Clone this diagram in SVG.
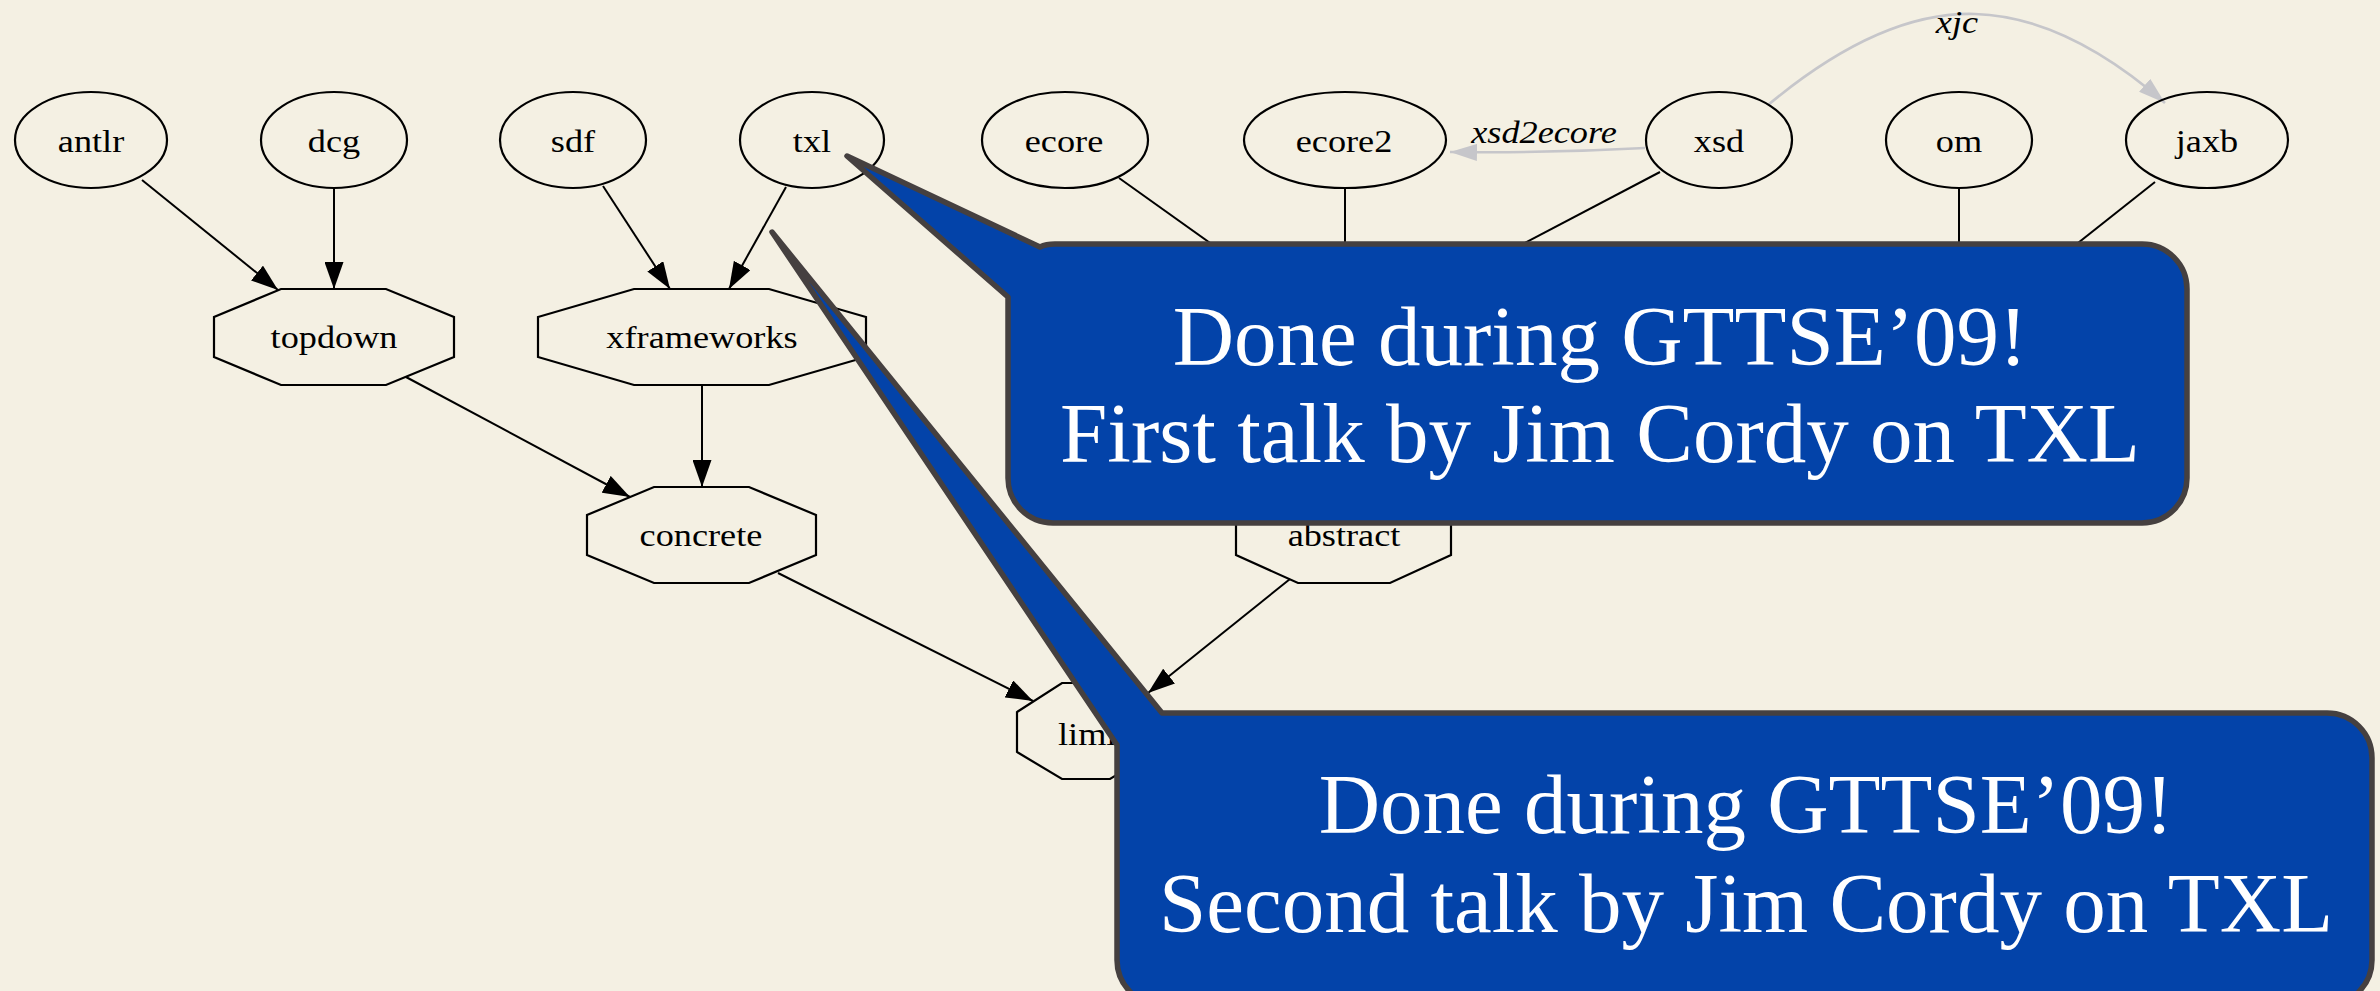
<svg xmlns="http://www.w3.org/2000/svg" width="2380" height="991" viewBox="0 0 2380 991">
  <style>
    .node { fill: none; stroke: #000; stroke-width: 2.2; }
    .lbl { font-family: "Liberation Serif", "Times New Roman", serif; font-size: 31px; fill: #000; text-anchor: middle; }
    .elbl { font-family: "Liberation Serif", "Times New Roman", serif; font-size: 31px; font-style: italic; fill: #000; text-anchor: middle; }
    .edge { fill: none; stroke: #000; stroke-width: 2; marker-end: url(#arrow); }
    .gedge { fill: none; stroke: #c6c6ca; stroke-width: 2.6; marker-end: url(#garrow); }
    .bubble { fill: #0343a9; stroke: #454040; stroke-width: 5.5; stroke-linejoin: round; }
    .btext { font-family: "Liberation Serif", "Times New Roman", serif; font-size: 85px; fill: #fff; text-anchor: middle; }
  </style>
  <defs>
    <marker id="arrow" viewBox="0 0 27 19" refX="27" refY="9.5" markerWidth="27" markerHeight="19" markerUnits="userSpaceOnUse" orient="auto">
      <path d="M0,0 L27,9.5 L0,19 Z" fill="#000"/>
    </marker>
    <marker id="garrow" viewBox="0 0 27 17" refX="27" refY="8.5" markerWidth="27" markerHeight="17" markerUnits="userSpaceOnUse" orient="auto">
      <path d="M0,0 L27,8.5 L0,17 Z" fill="#c6c6ca"/>
    </marker>
  </defs>

  <rect width="2380" height="991" fill="#f4f0e3"/>

  <!-- connectors -->
  <g id="edges">
    <line class="edge" x1="142" y1="180" x2="278" y2="290"/>
    <line class="edge" x1="334" y1="188" x2="334" y2="289"/>
    <line class="edge" x1="603" y1="186" x2="670" y2="289"/>
    <line class="edge" x1="786" y1="187" x2="729" y2="289"/>
    <line class="edge" x1="406" y1="377" x2="630" y2="497"/>
    <line class="edge" x1="702" y1="385" x2="702" y2="487"/>
    <line class="edge" x1="778" y1="573" x2="1033" y2="701"/>
    <line class="edge" x1="1290" y1="579" x2="1148" y2="693"/>
    <line class="edge" x1="1119" y1="178" x2="1290" y2="300"/>
    <line class="edge" x1="1345" y1="188" x2="1345" y2="289"/>
    <line class="edge" x1="1660" y1="172" x2="1416" y2="300"/>
    <line class="edge" x1="1959" y1="188" x2="1959" y2="289"/>
    <line class="edge" x1="2155" y1="182" x2="2006" y2="300"/>
    <path class="gedge" d="M1645,148 C1590,151 1520,153 1450,152"/>
    <text class="elbl" transform="translate(1544,143) scale(1.17,1)">xsd2ecore</text>
    <path class="gedge" d="M1768,105 C1840,45 1910,12 1975,14 C2045,16 2110,55 2165,103"/>
    <text class="elbl" transform="translate(1957,33) scale(1.17,1)">xjc</text>
  </g>

  <!-- source nodes -->
  <g id="node-antlr"><ellipse class="node" cx="91" cy="140" rx="76" ry="48"/><text class="lbl" transform="translate(91,152) scale(1.17,1)">antlr</text></g>
  <g id="node-dcg"><ellipse class="node" cx="334" cy="140" rx="73" ry="48"/><text class="lbl" transform="translate(334,152) scale(1.17,1)">dcg</text></g>
  <g id="node-sdf"><ellipse class="node" cx="573" cy="140" rx="73" ry="48"/><text class="lbl" transform="translate(573,152) scale(1.17,1)">sdf</text></g>
  <g id="node-txl"><ellipse class="node" cx="812" cy="140" rx="72" ry="48"/><text class="lbl" transform="translate(812,152) scale(1.17,1)">txl</text></g>
  <g id="node-ecore"><ellipse class="node" cx="1065" cy="140" rx="83" ry="48"/><text class="lbl" transform="translate(1064,152) scale(1.17,1)">ecore</text></g>
  <g id="node-ecore2"><ellipse class="node" cx="1345" cy="140" rx="101" ry="48"/><text class="lbl" transform="translate(1344,152) scale(1.17,1)">ecore2</text></g>
  <g id="node-xsd"><ellipse class="node" cx="1719" cy="140" rx="73" ry="48"/><text class="lbl" transform="translate(1719,152) scale(1.17,1)">xsd</text></g>
  <g id="node-om"><ellipse class="node" cx="1959" cy="140" rx="73" ry="48"/><text class="lbl" transform="translate(1959,152) scale(1.17,1)">om</text></g>
  <g id="node-jaxb"><ellipse class="node" cx="2207" cy="140" rx="81" ry="48"/><text class="lbl" transform="translate(2207,152) scale(1.17,1)">jaxb</text></g>

  <!-- intermediate nodes -->
  <g id="node-topdown"><polygon class="node" points="281,289 386,289 454,317 454,357 386,385 281,385 214,357 214,317"/><text class="lbl" transform="translate(334,348) scale(1.17,1)">topdown</text></g>
  <g id="node-xframeworks"><polygon class="node" points="634,289 769,289 866,317 866,357 769,385 634,385 538,357 538,317"/><text class="lbl" transform="translate(702,348) scale(1.17,1)">xframeworks</text></g>
  <g id="node-concrete"><polygon class="node" points="654,487 749,487 816,515 816,555 749,583 654,583 587,555 587,515"/><text class="lbl" transform="translate(701,546) scale(1.17,1)">concrete</text></g>
  <g id="node-abstract"><polygon class="node" points="1298,487 1390,487 1451,515 1451,555 1390,583 1298,583 1236,555 1236,515"/><text class="lbl" transform="translate(1344,546) scale(1.17,1)">abstract</text></g>
  <g id="node-limit"><polygon class="node" points="1062,683 1110,683 1155,712 1155,752 1110,779 1062,779 1017,752 1017,712"/><text class="lbl" style="text-anchor:start" transform="translate(1058,745) scale(1.17,1)">limit</text></g>

  <!-- callouts -->
  <g id="callout-first">
    <path class="bubble" d="M1055,244 L2142,244 A45 45 0 0 1 2187,289 L2187,478 A45 45 0 0 1 2142,523 L1053,523 A45 45 0 0 1 1008,478 L1008,297 L847,156 L1040,247 Q1046,244 1055,244 Z"/>
    <text class="btext" x="1600" y="365">Done during GTTSE’09!</text>
    <text class="btext" x="1600" y="462">First talk by Jim Cordy on TXL</text>
  </g>
  <g id="callout-second">
    <path class="bubble" d="M1162,713 L2327,713 A45 45 0 0 1 2372,758 L2372,960 A45 45 0 0 1 2327,1005 L1162,1005 A45 45 0 0 1 1117,960 L1117,745 L772,232 Z"/>
    <text class="btext" x="1746" y="833">Done during GTTSE’09!</text>
    <text class="btext" x="1746" y="932">Second talk by Jim Cordy on TXL</text>
  </g>
</svg>
